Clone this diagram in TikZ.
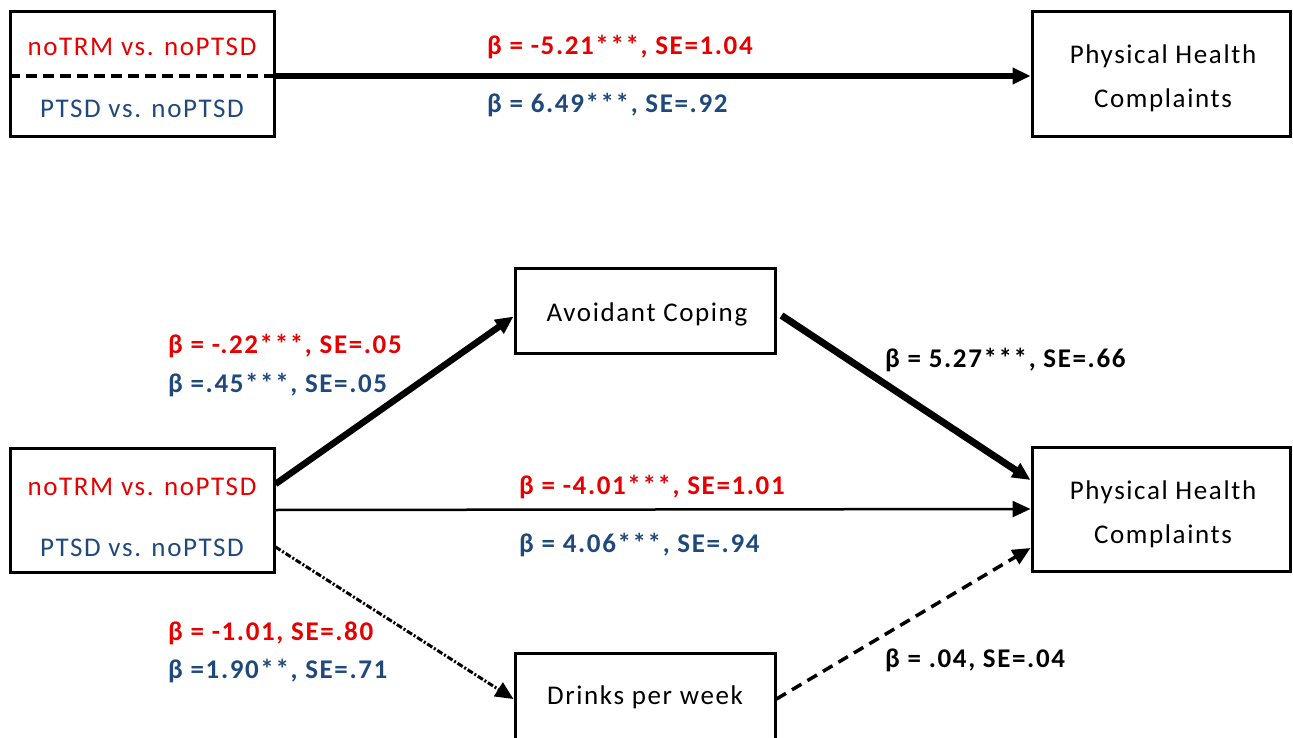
\documentclass[tikz,border=0pt]{standalone}
\usepackage{fontspec}
\setmainfont{Carlito}[LetterSpace=6]
\usetikzlibrary{arrows.meta}
\definecolor{cred}{RGB}{230,0,0}
\definecolor{cblue}{RGB}{31,73,125}
\tikzset{
  box/.style={draw, line width=3pt, minimum width=#1, inner sep=0pt},
  txt/.style={font=\fontsize{27}{44}\selectfont, align=center, inner sep=0pt},
  lab/.style={font=\fontsize{27}{32}\selectfont\bfseries, anchor=west, inner sep=0pt},
  arr/.style={-{Triangle[length=18pt,width=16pt]}},
}
\begin{document}
\begin{tikzpicture}[x=1pt,y=-1pt]
\useasboundingbox (0,0) rectangle (1293,738);
% top model
\node[box=264pt, minimum height=125pt] (tl) at (142,74.5) {};
\node[txt, text=cred] (tlr) at (142,47) {noTRM vs. noPTSD};
\node[txt, text=cblue] (tlb) at (142,109) {PTSD vs. noPTSD};
\node[box=258pt, minimum height=125pt] (tr) at (1161,74.5) {};
\node[txt] (trt) at (1163,78) {Physical Health\\Complaints};
\draw[line width=3.5pt, dash pattern=on 11pt off 6pt] (tl.west |- 0,76) -- (tl.east |- 0,76);
\draw[arr, line width=5.5pt] (tl.east |- 0,76) -- (tr.west |- 0,76);
\node[lab, text=cred] (l1) at (487,47) {β = -5.21***, SE=1.04};
\node[lab, text=cblue] (l2) at (487,105) {β = 6.49***, SE=.92};
% bottom model
\node[box=264pt, minimum height=124pt] (bl) at (142,510) {};
\node[txt, text=cred] (blr) at (142,487) {noTRM vs. noPTSD};
\node[txt, text=cblue] (blb) at (142,548) {PTSD vs. noPTSD};
\node[box=260pt, minimum height=85pt] (av) at (645,310.5) {};
\node[txt] (avt) at (647,314) {Avoidant Coping};
\node[box=258pt, minimum height=124pt] (pb) at (1161,509) {};
\node[txt] (pbt) at (1163,514) {Physical Health\\Complaints};
\node[box=260pt, minimum height=92pt] (dr) at (645,699) {};
\node[txt] (drt) at (645,697) {Drinks per week};
% connectors
\draw[arr, line width=6.5pt] ([yshift=26pt]bl.east) -- ([yshift=-6pt]av.west);
\draw[arr, line width=7pt] ([xshift=5pt,yshift=-5pt]av.east) -- ([yshift=29pt]pb.west);
\draw[arr, line width=2.5pt] (bl.east) -- (pb.west);
\draw[arr, line width=3pt, dash pattern=on 6pt off 2pt on 2pt off 2pt] ([yshift=-37pt]bl.east) -- (dr.west);
\draw[arr, line width=3.5pt, dash pattern=on 11pt off 7pt] (dr.east) -- ([yshift=-39pt]pb.west);
% labels
\node[lab, text=cred] (l3) at (168,346) {β = -.22***, SE=.05};
\node[lab, text=cblue] (l4) at (168,385) {β =.45***, SE=.05};
\node[lab] (l5) at (885,360) {β = 5.27***, SE=.66};
\node[lab, text=cred] (l6) at (519,487) {β = -4.01***, SE=1.01};
\node[lab, text=cblue] (l7) at (519,545) {β = 4.06***, SE=.94};
\node[lab, text=cred] (l8) at (168,633) {β = -1.01, SE=.80};
\node[lab, text=cblue] (l9) at (168,671) {β =1.90**, SE=.71};
\node[lab] (l10) at (885,660) {β = .04, SE=.04};
\end{tikzpicture}
\end{document}
